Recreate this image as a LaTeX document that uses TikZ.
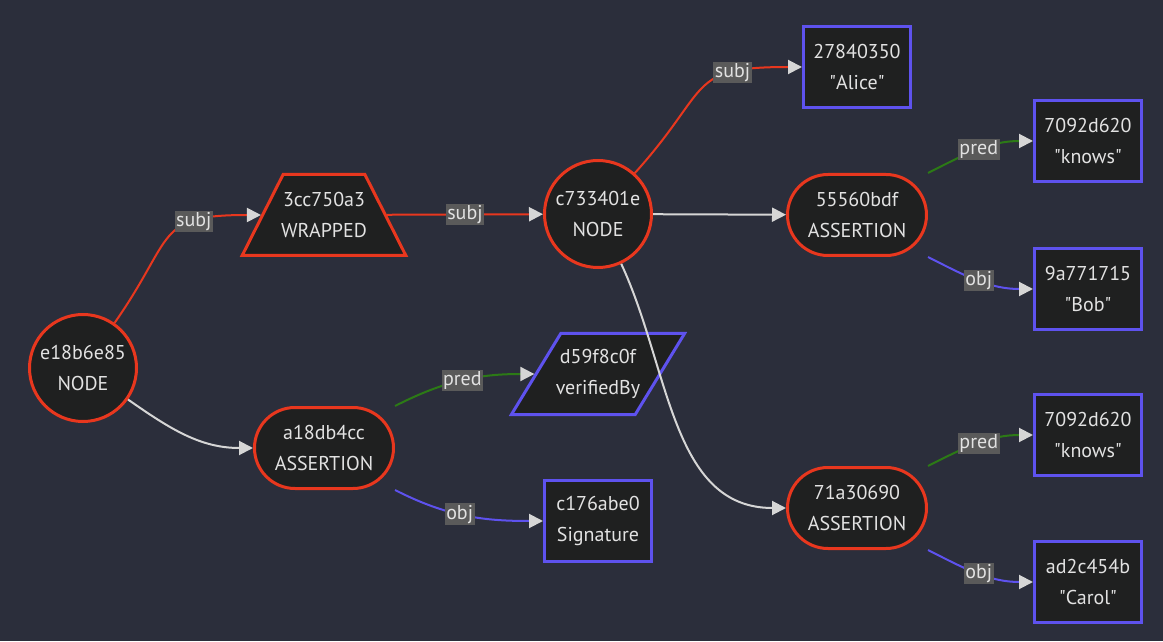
\documentclass[tikz,border=0pt]{standalone}
\usepackage{fontspec}
\setmainfont{PT Sans}
\usepackage{xcolor}
\usepackage{tikz}
\usetikzlibrary{shapes.geometric, shapes.misc, positioning, arrows.meta}

\definecolor{bgcol}{RGB}{43,46,59}
\definecolor{nodefill}{RGB}{31,32,32}
\definecolor{redline}{RGB}{232,55,30}
\definecolor{blueline}{RGB}{94,82,238}
\definecolor{greenline}{RGB}{44,122,22}
\definecolor{edgegray}{RGB}{214,214,214}
\definecolor{lblgray}{RGB}{90,90,90}
\definecolor{txtcol}{RGB}{226,226,226}

\newcommand{\qt}[1]{\textquotedbl#1\textquotedbl}

\begin{document}
\begin{tikzpicture}[x=1pt, y=1pt,
	>={Triangle[length=14pt, width=14pt, color=edgegray]},
	base/.style={fill=nodefill, text=txtcol, line width=3pt, align=center, inner sep=0pt, font=\fontsize{20}{31}\selectfont},
	main node/.style={base, circle, draw=redline, minimum size=107pt},
	assert node/.style={base, rounded rectangle, draw=redline, minimum width=139pt, minimum height=81pt},
	wrap node/.style={base, trapezium, trapezium left angle=48, trapezium right angle=48, trapezium stretches body, inner xsep=-2pt, draw=redline, minimum height=81pt},
	pred node/.style={base, trapezium, trapezium left angle=45, trapezium right angle=135, trapezium stretches body, inner xsep=-5pt, draw=blueline, minimum height=81pt},
	leaf node/.style={base, rectangle, draw=blueline, minimum width=107pt, minimum height=81pt},
	subj edge/.style={->, draw=redline, line width=2pt},
	pred edge/.style={->, draw=greenline, line width=2pt},
	obj edge/.style={->, draw=blueline, line width=2pt},
	plain edge/.style={->, draw=edgegray, line width=2pt},
	lbl/.style={fill=lblgray, text=txtcol, inner sep=1.5pt, font=\fontsize{20}{22}\selectfont}]

	\useasboundingbox[fill=bgcol] (0,0) rectangle (1163,641);

	% Nodes
	\node[main node] (root) at (83,273) {e18b6e85\\NODE};
	\node[wrap node] (wrap) at (324,426) {3cc750a3\\WRAPPED};
	\node[assert node] (sig) at (324,193) {a18db4cc\\ASSERTION};
	\node[main node] (inner) at (598,427) {c733401e\\NODE};
	\node[pred node] (verif) at (598,267) {d59f8c0f\\verifiedBy};
	\node[leaf node] (sigobj) at (598,120) {c176abe0\\Signature};
	\node[leaf node] (alice) at (857,574) {27840350\\\qt{Alice}};
	\node[assert node] (bob) at (857,426) {55560bdf\\ASSERTION};
	\node[assert node] (carol) at (857,133) {71a30690\\ASSERTION};
	\node[leaf node] (knowsA) at (1088,500) {7092d620\\\qt{knows}};
	\node[leaf node] (bobobj) at (1088,352) {9a771715\\\qt{Bob}};
	\node[leaf node] (knowsB) at (1088,206) {7092d620\\\qt{knows}};
	\node[leaf node] (carolobj) at (1088,59) {ad2c454b\\\qt{Carol}};

	% Edges (connections)
	\path
	(root) edge[subj edge, out=55, in=180, looseness=1.5] node[lbl, pos=0.7] {subj} (wrap)
	(wrap) edge[subj edge] node[lbl] {subj} (inner)
	(inner) edge[subj edge, out=48, in=180, looseness=1.5] node[lbl, pos=0.72] {subj} (alice)
	(root) edge[plain edge, out=-35, in=180] (sig)
	(inner) edge[plain edge] (bob)
	(inner) edge[plain edge, out=-65, in=180] (carol);
	\path
	(sig.east |- sig.north) edge[pred edge, out=27, in=180] node[lbl, pos=0.5] {pred} (verif)
	(bob.east |- bob.north) edge[pred edge, out=27, in=180] node[lbl] {pred} (knowsA)
	(carol.east |- carol.north) edge[pred edge, out=27, in=180] node[lbl] {pred} (knowsB);
	\path
	(sig.east |- sig.south) edge[obj edge, out=-27, in=180] node[lbl, pos=0.45] {obj} (sigobj)
	(bob.east |- bob.south) edge[obj edge, out=-27, in=180] node[lbl] {obj} (bobobj)
	(carol.east |- carol.south) edge[obj edge, out=-27, in=180] node[lbl] {obj} (carolobj);
\end{tikzpicture}
\end{document}
